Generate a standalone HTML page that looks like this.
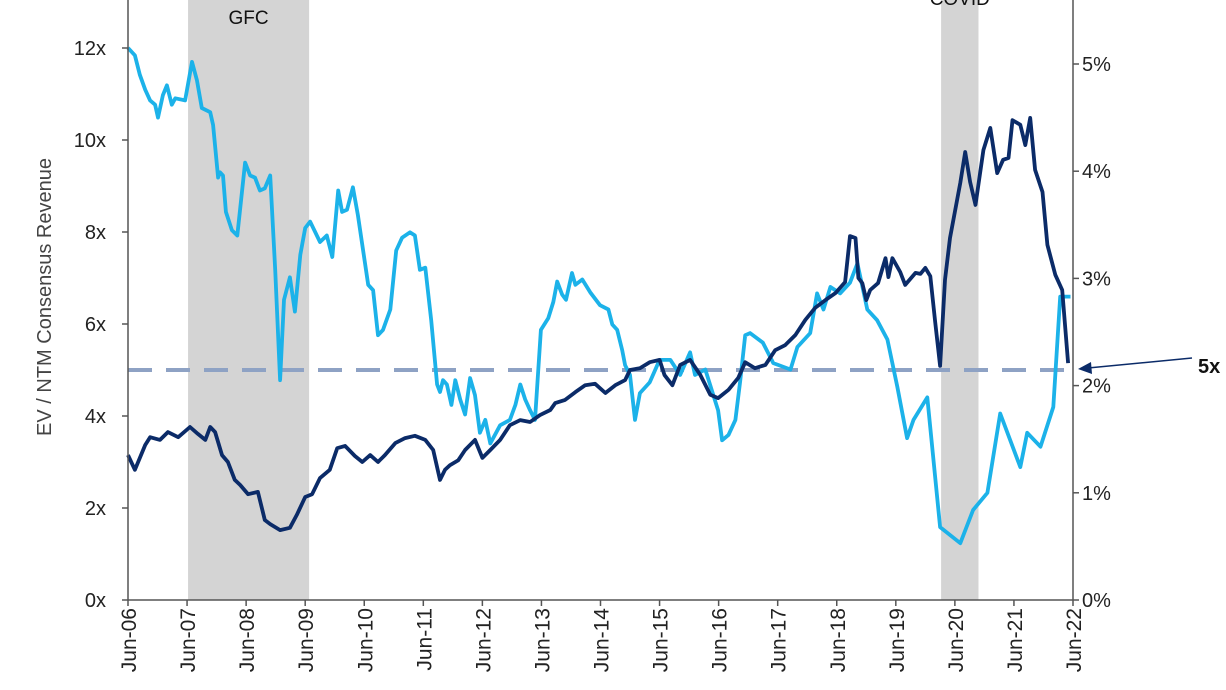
<!DOCTYPE html>
<html><head><meta charset="utf-8"><style>
html,body{margin:0;padding:0;background:#fff;}
svg{display:block;font-family:"Liberation Sans",Arial,sans-serif;}
</style></head><body>
<svg id="chart" width="1226" height="690" viewBox="0 0 1226 690" xmlns="http://www.w3.org/2000/svg"></svg>
<script>
const xLabels=["Jun-06","Jun-07","Jun-08","Jun-09","Jun-10","Jun-11","Jun-12","Jun-13","Jun-14","Jun-15","Jun-16","Jun-17","Jun-18","Jun-19","Jun-20","Jun-21","Jun-22"];
const leftTicks=[0,2,4,6,8,10,12];
const rightTicks=[0,1,2,3,4,5];
const recessionNames=["GFC","COVID"];
const recessionStart=[12.2,165.2];
const recessionEnd=[36.8,172.8];
const refLevel=5;
// months since Jun-06
const evMonths=[0,1.4,3.5,4.5,6.5,8.1,10.2,12.6,14.2,15.7,16.7,17.7,19.1,20.3,21.7,22.8,24.4,26.4,27.8,28.9,30.9,32.9,34.3,36,37.4,39,41,42.5,44.1,46.1,47.6,49.2,50.8,52.2,54.3,56.3,58.3,60.4,62,63.4,64.4,65.4,67.1,68.5,70.5,72,73.6,75.6,77.6,79.7,81.7,83.7,85.8,86.8,88.8,90.9,92.9,94.9,97,99,101,102,104,106,108,109,110.6,112.2,114.2,116.3,118.3,119.9,122,124,125.4,127.4,129.5,131.5,133.5,135.6,137.6,139.6,141.7,143.7,145.7,146.7,147.8,148.4,149.2,150,150.8,152.4,153.9,154.5,155.3,156.9,157.9,160,161,162,163,164,165,166,167,169.1,170.1,171.1,172.2,173.8,175.2,176.6,177.8,178.9,179.7,181.3,182.3,183.3,184.3,185.8,186.8,188.4,189.8,191];
const evValues=[3.15,2.83,3.37,3.54,3.48,3.65,3.54,3.76,3.61,3.48,3.76,3.65,3.15,3.0,2.61,2.5,2.3,2.35,1.74,1.65,1.52,1.57,1.85,2.24,2.3,2.65,2.83,3.3,3.35,3.13,3.0,3.15,3.0,3.15,3.41,3.52,3.57,3.48,3.26,2.61,2.83,2.93,3.04,3.26,3.48,3.09,3.26,3.48,3.8,3.91,3.87,4.02,4.13,4.28,4.35,4.52,4.67,4.7,4.5,4.67,4.78,5.0,5.04,5.17,5.22,4.89,4.67,5.11,5.22,4.89,4.46,4.39,4.57,4.83,5.17,5.04,5.11,5.43,5.54,5.76,6.09,6.35,6.52,6.67,6.91,7.91,7.87,7.0,6.89,6.52,6.74,6.89,7.43,7.02,7.43,7.13,6.85,7.11,7.09,7.22,7.04,6.04,5.09,6.96,7.87,9.07,9.74,9.09,8.59,9.78,10.26,9.28,9.57,9.61,10.43,10.33,9.89,10.48,9.35,8.87,7.72,7.07,6.74,5.15];
const rateMonths=[0,1.4,2.4,3.5,4.5,5.5,6.1,7.1,7.9,8.9,9.6,11.6,13,14,15,16.7,17.3,18.3,18.7,19.3,19.9,21.1,22.2,23.8,24.8,25.8,26.8,27.8,28.9,29.9,30.9,31.7,32.9,33.9,35,36,37,39,40.4,41.5,42.7,43.5,44.5,45.7,46.7,48.8,49.8,50.8,51.8,53.3,54.5,55.7,57.3,58.3,59.3,60.4,61.6,62.8,63.4,64,64.8,65.7,66.5,67.5,68.5,69.5,70.5,71.5,72.6,73.6,75.6,77.6,78.7,79.7,80.7,81.7,82.7,83.9,85.4,86.4,87.2,88.2,89,90.2,90.9,92.3,93.9,95.9,97.6,98.4,99.4,100.4,101,102,103,104,106,108,110.2,112.2,114.2,115.2,117.3,119.9,120.7,122,123.4,124.4,125.4,126.4,129,131.1,134.6,136,138.6,140,141.3,142.7,144.7,146.7,148.2,150.2,152.2,154.3,156.3,158.3,159.6,162.4,165,169.1,171.7,174.6,177.2,181.3,182.7,185.4,188,189.4,191.5];
const rateValues=[5.15,5.08,4.90,4.76,4.66,4.62,4.50,4.71,4.80,4.62,4.68,4.66,5.02,4.85,4.59,4.55,4.43,3.94,3.99,3.96,3.62,3.45,3.40,4.08,3.96,3.94,3.82,3.84,3.96,3.08,2.05,2.80,3.01,2.69,3.22,3.47,3.53,3.34,3.40,3.20,3.82,3.62,3.64,3.85,3.59,2.94,2.89,2.47,2.52,2.71,3.26,3.38,3.43,3.40,3.08,3.10,2.61,2.01,1.94,2.05,2.01,1.82,2.05,1.87,1.73,2.07,1.91,1.56,1.68,1.46,1.63,1.68,1.82,2.01,1.87,1.77,1.68,2.52,2.63,2.78,2.97,2.85,2.80,3.05,2.94,2.99,2.87,2.75,2.71,2.57,2.52,2.33,2.19,2.10,1.68,1.93,2.03,2.24,2.24,2.10,2.31,2.10,2.15,1.77,1.49,1.54,1.68,2.05,2.47,2.49,2.40,2.21,2.15,2.36,2.49,2.86,2.71,2.92,2.86,2.96,3.14,2.71,2.61,2.43,1.99,1.51,1.68,1.89,0.68,0.53,0.84,1.00,1.74,1.24,1.56,1.43,1.80,2.83,2.83];

const NS="http://www.w3.org/2000/svg";
const svg=document.getElementById("chart");
const X0=128,X1=1073,Y0=600;
const xs=m=>X0+m*(X1-X0)/192;
const yL=v=>Y0-v*46;
const yR=p=>Y0-p*107.2;
function mk(tag,attrs,parent){const e=document.createElementNS(NS,tag);for(const k in attrs)e.setAttribute(k,attrs[k]);(parent||svg).appendChild(e);return e;}

recessionNames.forEach((n,i)=>{
  const r=mk("rect",{x:xs(recessionStart[i]),y:0,width:xs(recessionEnd[i])-xs(recessionStart[i]),height:Y0,fill:"#d4d4d4"});
  
  
  const t=mk("text",{x:(xs(recessionStart[i])+xs(recessionEnd[i]))/2,y:i===0?24:5,"text-anchor":"middle","font-size":"19",fill:"#111"});
  t.textContent=n;
  
  
});

const ref=mk("line",{x1:X0,x2:1068,y1:yL(refLevel),y2:yL(refLevel),stroke:"#8ea2c4","stroke-width":4,"stroke-dasharray":"24 14"});



function series(ms,vs,fn,color,name){
  const d=ms.map((m,i)=>(i?"L":"M")+xs(m).toFixed(1)+","+fn(vs[i]).toFixed(1)).join("");
  const p=mk("path",{d:d,fill:"none",stroke:color,"stroke-width":3.8,"stroke-linejoin":"round"});
  
  
}
series(rateMonths,rateValues,yR,"#1cb2e9","rate-series-line");
series(evMonths,evValues,yL,"#0b2b68","ev-revenue-series-line");

const axL=mk("line",{x1:X0,x2:X0,y1:0,y2:Y0,stroke:"#555","stroke-width":1.5});


const axR=mk("line",{x1:X1,x2:X1,y1:0,y2:Y0,stroke:"#555","stroke-width":1.5});


const axB=mk("line",{x1:X0,x2:X1,y1:Y0,y2:Y0,stroke:"#555","stroke-width":1.5});



leftTicks.forEach(v=>{
  mk("line",{x1:X0-6,x2:X0,y1:yL(v),y2:yL(v),stroke:"#555","stroke-width":1.5});
  const t=mk("text",{x:106,y:yL(v)+7,"text-anchor":"end","font-size":"20",fill:"#222"});
  t.textContent=v+"x";
  
  
});
rightTicks.forEach(v=>{
  mk("line",{x1:X1,x2:X1+6,y1:yR(v),y2:yR(v),stroke:"#555","stroke-width":1.5});
  const t=mk("text",{x:1082,y:yR(v)+7,"text-anchor":"start","font-size":"20",fill:"#222"});
  t.textContent=v+"%";
  
  
});
xLabels.forEach((l,i)=>{
  const x=xs(i*12);
  mk("line",{x1:x,x2:x,y1:Y0,y2:Y0+6,stroke:"#555","stroke-width":1.5});
  const t=mk("text",{x:0,y:0,"text-anchor":"end","font-size":"21",fill:"#222",transform:"translate("+(x+8)+","+(Y0+8)+") rotate(-90)"});
  t.textContent=l;
  
  
});

const yt=mk("text",{x:0,y:0,"text-anchor":"middle","font-size":"20",fill:"#444",transform:"translate(51,297) rotate(-90)"});
yt.textContent="EV / NTM Consensus Revenue";



const ar=mk("line",{x1:1192,y1:358,x2:1088,y2:368,stroke:"#0b2b68","stroke-width":1.5});


const ah=mk("polygon",{points:"1078,369 1091,362 1092,374",fill:"#0b2b68"});


const at=mk("text",{x:1198,y:373,"font-size":"20","font-weight":"bold",fill:"#111"});
at.textContent="5x";


</script>
</body></html>
